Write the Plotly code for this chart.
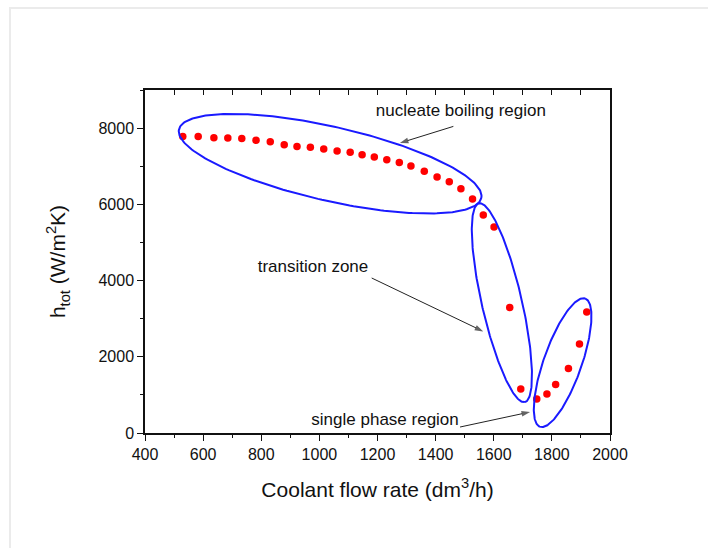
import numpy as np
import plotly.graph_objects as go

# ---- data ----
flow_nucleate = [530, 583, 637, 685, 733, 782, 831, 879, 923, 969, 1015, 1061, 1106,
                 1147, 1189, 1232, 1275, 1315, 1361, 1405, 1447, 1487, 1527]
h_nucleate = [7780, 7780, 7750, 7740, 7730, 7680, 7640, 7565, 7520, 7495, 7450, 7400, 7365,
              7300, 7240, 7170, 7100, 7005, 6865, 6715, 6595, 6410, 6140]
flow_transition = [1564, 1601, 1655, 1693]
h_transition = [5720, 5405, 3295, 1155]
flow_single = [1748, 1783, 1813, 1857, 1895, 1920]
h_single = [890, 1025, 1275, 1695, 2335, 3175]

x_ticks = [400, 600, 800, 1000, 1200, 1400, 1600, 1800, 2000]
y_ticks = [0, 2000, 4000, 6000, 8000]

# region outlines: centre (data units), semi-axes (px), rotation (deg, screen)
regions = [
    dict(cx=1037, cy=7066, a=155, b=37, ang=12.8),
    dict(cx=1628, cy=3419, a=102, b=20, ang=77.0),
    dict(cx=1837, cy=1845, a=68, b=19, ang=-70.6),
]

# labels and their pointer arrows (tail -> head, data units)
label_text = ["nucleate boiling region", "transition zone", "single phase region"]
label_x = [1487, 978, 1226]
label_y = [8439, 4337, 323]
arrow_tail = [(1461, 8045), (1180, 4067), (1484, 157)]
arrow_head = [(1277, 7609), (1564, 2666), (1725, 551)]

# ---- layout geometry ----
W, H = 708, 548
ML, MR, MT, MB = 145, 98, 90, 115
XR = [400, 2000]
YR = [0, 9000]
sx = (W - ML - MR) / (XR[1] - XR[0])
sy = (H - MT - MB) / (YR[1] - YR[0])

fig = go.Figure()

marker = dict(color="#ff0000", size=7.5)
for xs, ys in [(flow_nucleate, h_nucleate), (flow_transition, h_transition), (flow_single, h_single)]:
    fig.add_trace(go.Scatter(x=xs, y=ys, mode="markers", marker=marker,
                             showlegend=False, hoverinfo="x+y"))

t = np.linspace(0, 2 * np.pi, 241)
for r in regions:
    th = np.deg2rad(r["ang"])
    dx = r["a"] * np.cos(t) * np.cos(th) - r["b"] * np.sin(t) * np.sin(th)
    dy = r["a"] * np.cos(t) * np.sin(th) + r["b"] * np.sin(t) * np.cos(th)
    fig.add_trace(go.Scatter(x=r["cx"] + dx / sx, y=r["cy"] - dy / sy, mode="lines",
                             line=dict(color="#1a1aff", width=2), showlegend=False,
                             hoverinfo="skip"))

for (tx, ty), (hx, hy) in zip(arrow_tail, arrow_head):
    fig.add_trace(go.Scatter(x=[tx, hx], y=[ty, hy], mode="lines+markers",
                             line=dict(color="#222", width=1),
                             marker=dict(symbol=["circle", "arrow"], size=[0, 9],
                                         angleref="previous", color="#222",
                                         line=dict(width=0)),
                             showlegend=False, hoverinfo="skip"))

fig.add_trace(go.Scatter(x=label_x, y=label_y, text=label_text, mode="text",
                         textfont=dict(family="Arial, Liberation Sans, sans-serif", size=17,
                                       color="#111"),
                         textposition="middle center", showlegend=False, hoverinfo="skip"))

# helper trace for top tick axis
fig.add_trace(go.Scatter(x=[None], y=[None], xaxis="x2", showlegend=False, hoverinfo="skip"))

FAM = "Arial, Liberation Sans, sans-serif"
axis_font = dict(family=FAM, size=16, color="#111")
fig.update_layout(
    width=W, height=H,
    margin=dict(l=ML, r=MR, t=MT, b=MB),
    paper_bgcolor="white", plot_bgcolor="white",
    font=dict(family=FAM, color="#111"),
    xaxis=dict(range=XR, tickvals=x_ticks, ticks="outside", ticklen=6, tickwidth=1.2,
               tickcolor="#111", showline=True, linecolor="#111", linewidth=1.5, mirror=True,
               showgrid=False, zeroline=False, tickfont=axis_font,
               minor=dict(ticks="outside", dtick=100, ticklen=3, tickcolor="#111", tickwidth=1.2),
               title=dict(text="Coolant flow rate (dm<sup>3</sup>/h)", standoff=20,
                          font=dict(family=FAM, size=21, color="#111"))),
    xaxis2=dict(range=XR, overlaying="x", side="top", dtick=100, tick0=400, ticks="inside",
                ticklen=5, tickwidth=1.2, tickcolor="#111", showticklabels=False,
                showgrid=False, zeroline=False, showline=False),
    yaxis=dict(range=YR, tickvals=y_ticks, ticks="outside", ticklen=6, tickwidth=1.2,
               tickcolor="#111", showline=True, linecolor="#111", linewidth=1.5, mirror=True,
               showgrid=False, zeroline=False, tickfont=axis_font,
               minor=dict(ticks="outside", dtick=1000, ticklen=3, tickcolor="#111", tickwidth=1.2),
               title=dict(text="h<sub>tot</sub> (W/m<sup>2</sup>K)", standoff=27,
                          font=dict(family=FAM, size=21, color="#111"))),
    shapes=[dict(type="rect", xref="paper", yref="paper",
                 x0=(10 - ML) / (W - ML - MR), x1=(W + 20 - ML) / (W - ML - MR),
                 y0=-1, y1=(H - MB - 8) / (H - MT - MB),
                 line=dict(color="#ebebeb", width=2), layer="below")],
)

fig.write_html("out.html")
